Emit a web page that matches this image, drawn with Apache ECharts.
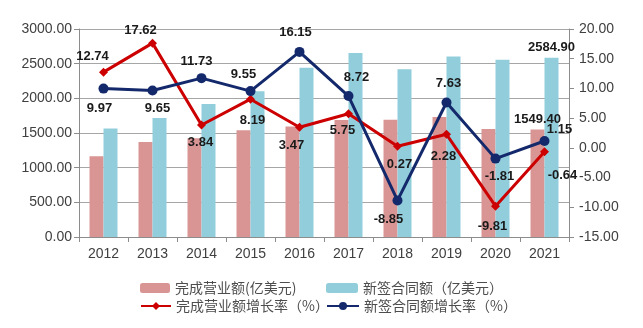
<!DOCTYPE html>
<html>
<head>
<meta charset="utf-8">
<script src="https://cdn.jsdelivr.net/npm/echarts@6/dist/echarts.min.js"></script>
<style>html,body{margin:0;padding:0;background:#fff;}#c{width:643px;height:328px;}</style>
</head>
<body>
<div id="c"></div>
<script>
var years = ['2012','2013','2014','2015','2016','2017','2018','2019','2020','2021'];
var revenue = [1166, 1371, 1424, 1541, 1594, 1686, 1690, 1729, 1559, 1549.40];
var contracts = [1565, 1716, 1918, 2101, 2440, 2653, 2418, 2603, 2555, 2584.90];
var revenueGrowth = [12.74, 17.62, 3.84, 8.19, 3.47, 5.75, 0.27, 2.28, -9.81, -0.64];
var contractGrowth = [9.97, 9.65, 11.73, 9.55, 16.15, 8.72, -8.85, 7.63, -1.81, 1.15];
var leftTicks = [0, 500, 3000];
var rightTicks = [-15, 5, 20];
var names = ['完成营业额(亿美元)', '新签合同额（亿美元）', '完成营业额增长率（%）', '新签合同额增长率（%）'];

// label placement (styling only)
var redPos = [['top',-11,0],['top',-12,3],['bottom',-1,1],['bottom',2,5],['bottom',-8,2],['bottom',-6,1],['bottom',2,2],['bottom',-3,6],['bottom',-3,4],['bottom',18,8]];
var bluePos = [['bottom',-4,3],['bottom',5,1],['top',-5,0],['top',-7,0],['top',-4,-3],['top',8,-2],['bottom',-9,2],['top',2,-3],['bottom',4,1],['top',15,5]];

var C_PINK = '#D99594', C_BLUE = '#92CDDC', C_RED = '#CC0000', C_NAVY = '#13296B';
var labFont = {fontFamily: 'Liberation Sans', fontSize: 13, fontWeight: 'bold', color: '#1a1a1a'};

function lineData(vals, pos) {
  return vals.map(function (v, i) {
    return {value: v, label: {position: pos[i][0], offset: [pos[i][1], pos[i][2]]}};
  });
}
function barData(vals) {
  return vals.map(function (v, i) {
    return {value: v, label: {show: i === vals.length - 1}};
  });
}

var chart = echarts.init(document.getElementById('c'));
var legendText = {fontFamily: 'Noto Sans CJK SC', fontSize: 14, color: '#4d4d4d'};
var axisFont = {fontSize: 14, color: '#404040', fontFamily: 'Liberation Sans'};
chart.setOption({
  animation: false,
  textStyle: {fontFamily: 'Liberation Sans'},
  grid: {left: 79, right: 74, top: 29, bottom: 91, containLabel: false},
  legend: [
    {data: [names[0]], left: 135, top: 276, itemWidth: 30, itemHeight: 10, itemGap: 4, textStyle: legendText},
    {data: [names[1]], left: 321, top: 276, itemWidth: 32, itemHeight: 10, textStyle: legendText},
    {data: [names[2]], left: 135, top: 294, itemWidth: 30, itemHeight: 10, textStyle: legendText},
    {data: [names[3]], left: 321, top: 294, itemWidth: 32, itemHeight: 10, textStyle: legendText}
  ],
  xAxis: {
    type: 'category', data: years,
    axisLine: {lineStyle: {color: '#8c8c8c', width: 1}},
    axisTick: {show: true, alignWithLabel: false, length: 5, lineStyle: {color: '#8c8c8c'}},
    axisLabel: Object.assign({margin: 10}, axisFont)
  },
  yAxis: [
    {type: 'value', min: leftTicks[0], max: leftTicks[2], interval: leftTicks[1],
     axisLine: {show: true, lineStyle: {color: '#8c8c8c'}},
     axisTick: {show: true, length: 5, lineStyle: {color: '#8c8c8c'}},
     splitLine: {lineStyle: {color: '#a6a6a6', width: 1}},
     axisLabel: Object.assign({margin: 7, formatter: function (v) { return v.toFixed(2); }}, axisFont)},
    {type: 'value', min: rightTicks[0], max: rightTicks[2], interval: rightTicks[1],
     axisLine: {show: true, lineStyle: {color: '#8c8c8c'}},
     axisTick: {show: true, length: 5, lineStyle: {color: '#8c8c8c'}},
     splitLine: {show: false},
     axisLabel: Object.assign({margin: 10, formatter: function (v) { return v.toFixed(2); }}, axisFont)}
  ],
  series: [
    {name: names[0], type: 'bar', data: barData(revenue), barWidth: 14, barGap: '0%',
     itemStyle: {color: C_PINK},
     label: Object.assign({position: 'top', distance: 4, formatter: function (p) { return p.value.toFixed(2); }}, labFont)},
    {name: names[1], type: 'bar', data: barData(contracts), barWidth: 14, barGap: '0%',
     itemStyle: {color: C_BLUE},
     label: Object.assign({position: 'top', distance: 4, formatter: function (p) { return p.value.toFixed(2); }}, labFont)},
    {name: names[2], type: 'line', yAxisIndex: 1, data: lineData(revenueGrowth, redPos),
     symbol: 'diamond', symbolSize: 9, lineStyle: {color: C_RED, width: 3}, itemStyle: {color: C_RED},
     label: Object.assign({show: true, distance: 5, formatter: function (p) { return p.value.toFixed(2); }}, labFont), z: 5},
    {name: names[3], type: 'line', yAxisIndex: 1, data: lineData(contractGrowth, bluePos),
     symbol: 'circle', symbolSize: 10, lineStyle: {color: C_NAVY, width: 3}, itemStyle: {color: C_NAVY},
     label: Object.assign({show: true, distance: 5, formatter: function (p) { return p.value.toFixed(2); }}, labFont), z: 6}
  ]
});
</script>
</body>
</html>
